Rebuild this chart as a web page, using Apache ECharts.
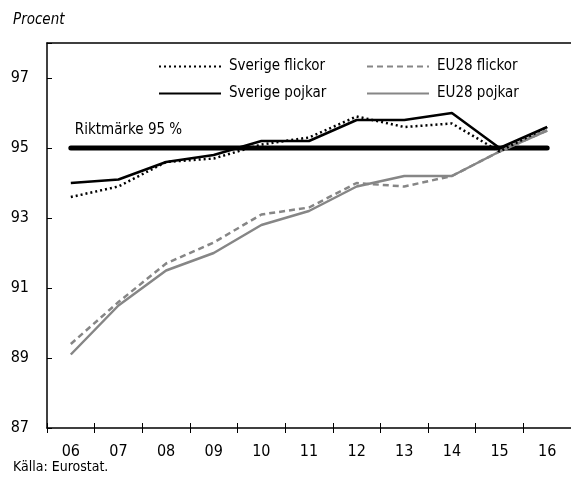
<!DOCTYPE html>
<html>
<head>
<meta charset="utf-8">
<script src="https://cdn.jsdelivr.net/npm/echarts@6/dist/echarts.min.js"></script>
<style>
  html, body { margin: 0; padding: 0; background: #fff; }
  #chart { width: 571px; height: 484px; }
</style>
</head>
<body>
<div id="chart"></div>
<script>
// år (2006-2016)
const years = ["06", "07", "08", "09", "10", "11", "12", "13", "14", "15", "16"];

const sverigeFlickor = [93.6, 93.9, 94.6, 94.7, 95.1, 95.3, 95.9, 95.6, 95.7, 94.9, 95.6];
const sverigePojkar = [94.0, 94.1, 94.6, 94.8, 95.2, 95.2, 95.8, 95.8, 96.0, 95.0, 95.6];
const eu28Flickor = [89.4, 90.6, 91.7, 92.3, 93.1, 93.3, 94.0, 93.9, 94.2, 94.9, 95.5];
const eu28Pojkar = [89.1, 90.5, 91.5, 92.0, 92.8, 93.2, 93.9, 94.2, 94.2, 94.9, 95.5];
const riktmarke = years.map(() => 95);

const font = "'Liberation Sans Narrow', 'DejaVu Sans Condensed', 'Liberation Sans', sans-serif";
const grey = "#868686";

const chart = echarts.init(document.getElementById("chart"));

const legendBase = {
  orient: "vertical",
  top: 54,
  itemWidth: 62, itemHeight: 14, itemGap: 12,
  itemStyle: { opacity: 0 },
  textStyle: { fontFamily: font, fontSize: 15, color: "#000", padding: [0, 0, 0, 3] }
};

const option = {
  animation: false,
  textStyle: { fontFamily: font, color: "#000" },
  title: [
    {
      text: "Procent",
      left: 8, top: 8,
      textStyle: { fontFamily: font, fontSize: 15, fontStyle: "italic", fontWeight: "normal", color: "#000" }
    },
    {
      text: "Källa: Eurostat.",
      left: 8, top: 455,
      textStyle: { fontFamily: font, fontSize: 14, fontWeight: "normal", color: "#000" }
    }
  ],
  legend: [
    Object.assign({ left: 153, data: ["Sverige flickor", "Sverige pojkar"] }, legendBase),
    Object.assign({ left: 361, data: ["EU28 flickor", "EU28 pojkar"] }, legendBase)
  ],
  grid: { left: 47, right: -4, top: 43, bottom: 56 },
  xAxis: [
    {
      type: "category",
      data: years,
      boundaryGap: true,
      axisLine: { lineStyle: { color: "#000", width: 1.5 } },
      axisTick: { show: true, length: 5, lineStyle: { color: "#000" } },
      axisLabel: { color: "#000", fontFamily: font, fontSize: 16, margin: 16 },
      splitLine: { show: false }
    },
    {
      type: "category",
      data: years,
      position: "bottom",
      boundaryGap: true,
      axisLine: { show: false },
      axisTick: { show: true, inside: true, length: 5, lineStyle: { color: "#000" } },
      axisLabel: { show: false },
      splitLine: { show: false }
    },
    {
      type: "category",
      data: years,
      position: "top",
      axisLine: { lineStyle: { color: "#000", width: 1.5 } },
      axisTick: { show: false },
      axisLabel: { show: false }
    }
  ],
  yAxis: {
    type: "value",
    min: 87,
    max: 98,
    interval: 2,
    axisLine: { show: true, lineStyle: { color: "#000", width: 1.5 } },
    axisTick: { show: true, inside: true, length: 5, lineStyle: { color: "#000" } },
    axisLabel: {
      color: "#000", fontFamily: font, fontSize: 16, margin: 18,
      formatter: (v) => (v === 98 ? "" : v)
    },
    splitLine: { show: false }
  },
  series: [
    {
      name: "Riktmärke",
      type: "line",
      data: riktmarke,
      symbol: "none",
      lineStyle: { color: "#000", width: 5, cap: "round" },
      markPoint: {
        symbol: "circle",
        symbolSize: 0,
        data: [{ coord: [0, riktmarke[0]] }],
        label: {
          show: true, formatter: "Riktmärke 95 %", position: "top",
          align: "left", distance: 10, offset: [4, 0],
          fontFamily: font, fontSize: 15, color: "#000"
        }
      },
      z: 1
    },
    {
      name: "EU28 pojkar",
      type: "line",
      data: eu28Pojkar,
      symbol: "none",
      itemStyle: { color: grey },
      lineStyle: { color: grey, width: 2.5 }
    },
    {
      name: "EU28 flickor",
      type: "line",
      data: eu28Flickor,
      symbol: "none",
      itemStyle: { color: grey },
      lineStyle: { color: grey, width: 2.5, type: [6, 4] }
    },
    {
      name: "Sverige pojkar",
      type: "line",
      data: sverigePojkar,
      symbol: "none",
      itemStyle: { color: "#000" },
      lineStyle: { color: "#000", width: 2.5 }
    },
    {
      name: "Sverige flickor",
      type: "line",
      data: sverigeFlickor,
      symbol: "none",
      itemStyle: { color: "#000" },
      lineStyle: { color: "#000", width: 2.5, type: [2, 3] }
    }
  ]
};

chart.setOption(option);
</script>
</body>
</html>
